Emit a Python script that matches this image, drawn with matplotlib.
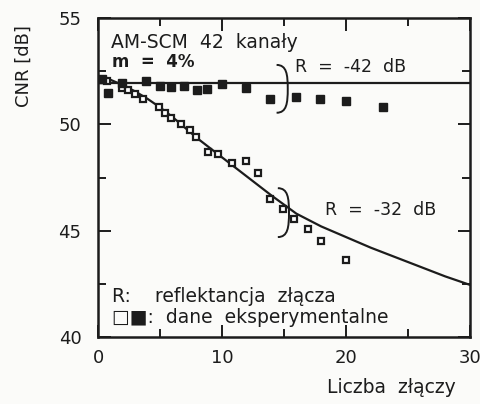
import matplotlib
matplotlib.use("Agg")
import matplotlib.pyplot as plt
from matplotlib.path import Path
from matplotlib.patches import PathPatch
from matplotlib.ticker import MultipleLocator

# measured points, R = -32 dB (open squares)
open_x = [0.2, 0.7, 1.9, 2.4, 3.0, 3.6, 4.9, 5.4, 5.9, 6.7, 7.4, 7.9,
          8.9, 9.7, 10.8, 11.9, 12.9, 13.9, 14.9, 15.8, 16.9, 18.0, 20.0]
open_y = [52.1, 52.05, 51.7, 51.6, 51.45, 51.2, 50.8, 50.55, 50.3, 50.0, 49.75, 49.4,
          48.7, 48.6, 48.2, 48.3, 47.7, 46.5, 46.0, 45.55, 45.1, 44.5, 43.6]

# measured points, R = -42 dB (filled squares)
fill_x = [0.3, 0.8, 1.9, 3.9, 5.0, 5.9, 6.9, 8.0, 8.8, 10.0, 11.9, 13.9, 16.0, 17.9, 20.0, 23.0]
fill_y = [52.15, 51.5, 51.95, 52.05, 51.8, 51.75, 51.8, 51.6, 51.65, 51.9, 51.7, 51.2, 51.3, 51.2, 51.1, 50.8]

# theory curves
curve32_x = [0, 1, 2, 3, 4, 5, 6, 7, 8, 9, 10, 12, 14, 16, 18, 20, 22, 24, 26, 28, 30]
curve32_y = [52.25, 52.1, 51.85, 51.55, 51.2, 50.8, 50.35, 49.85, 49.35, 48.9, 48.45,
             47.55, 46.65, 45.8, 45.2, 44.7, 44.2, 43.75, 43.3, 42.85, 42.45]
curve42_x = [0, 30]
curve42_y = [51.95, 51.95]

ink = "#1c1c1c"
plt.rcParams["font.family"] = "DejaVu Sans"

fig = plt.figure(figsize=(4.81, 4.04), dpi=100, facecolor="#fbfbf9")
ax = fig.add_axes([0.204, 0.166, 0.773, 0.789])
ax.set_facecolor("#fbfbf9")

ax.plot(curve42_x, curve42_y, color=ink, lw=1.6)
ax.plot(curve32_x, curve32_y, color=ink, lw=1.6)
ax.plot(open_x, open_y, ls="none", marker="s", ms=5, mfc="white", mec=ink, mew=1.6)
ax.plot(fill_x, fill_y, ls="none", marker="s", ms=6, mfc=ink, mec=ink)


def brace(x0, ytop, ybot, w=0.9):
    # ")"-shaped bracket grouping the points of one series
    ym = (ytop + ybot) / 2
    h = ytop - ybot
    verts = [(x0, ytop), (x0 + w * 0.9, ytop), (x0 + w, ytop - 0.2 * h), (x0 + w, ym),
             (x0 + w, ybot + 0.2 * h), (x0 + w * 0.9, ybot), (x0, ybot)]
    codes = [Path.MOVETO] + [Path.CURVE4] * 6
    ax.add_patch(PathPatch(Path(verts, codes), fill=False, ec=ink, lw=1.4))


brace(14.4, 52.8, 50.55)
brace(14.5, 47.0, 44.7)

tk = dict(color=ink, fontsize=12.5)
ax.text(1.0, 53.85, "AM-SCM  42  kanały", va="center", color=ink, fontsize=13.5)
ax.text(1.1, 52.95, "m  =  4%", va="center", fontweight="bold", color=ink, fontsize=12)
ax.text(15.9, 52.7, "R  =  -42  dB", va="center", **tk)
ax.text(18.3, 45.97, "R  =  -32  dB", va="center", **tk)
ax.text(1.1, 41.9, "R:    reflektancja  złącza", va="center", color=ink, fontsize=13.5)
ax.text(1.1, 40.9, "□■:  dane  eksperymentalne", va="center", color=ink, fontsize=13.5)

ax.set_xlim(0, 30)
ax.set_ylim(40, 55)
ax.xaxis.set_major_locator(MultipleLocator(10))
ax.xaxis.set_minor_locator(MultipleLocator(5))
ax.yaxis.set_major_locator(MultipleLocator(5))
ax.yaxis.set_minor_locator(MultipleLocator(2.5))
ax.tick_params(which="both", direction="in", top=True, right=True, colors=ink,
               labelsize=13, width=1.4)
ax.tick_params(which="major", length=9)
ax.tick_params(which="minor", length=6)
ax.tick_params(axis="y", pad=12)
ax.tick_params(axis="x", pad=9)
for s in ax.spines.values():
    s.set_linewidth(1.8)
    s.set_color(ink)

ax.set_ylabel("CNR [dB]", fontsize=13, color=ink)
ax.yaxis.set_label_coords(-0.177, 0.85)
ax.set_xlabel("Liczba  złączy", fontsize=13.5, color=ink)
ax.xaxis.set_label_coords(0.79, -0.13)

fig.savefig("out.png", dpi=100, facecolor=fig.get_facecolor())
